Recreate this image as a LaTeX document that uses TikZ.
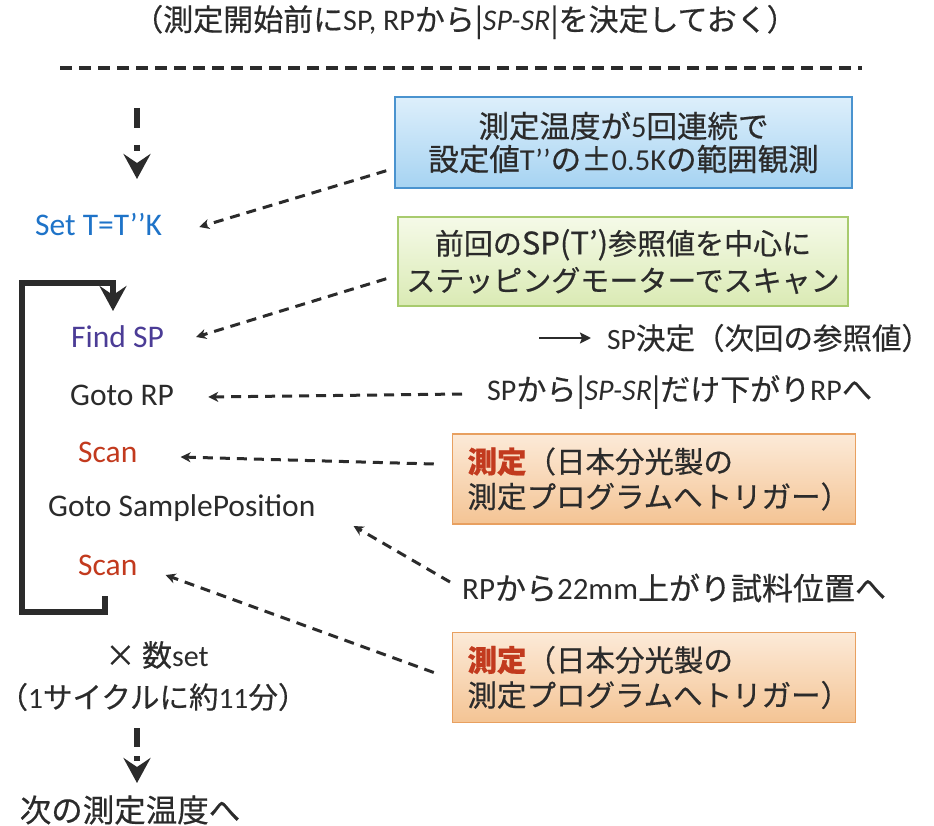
\documentclass[tikz,border=0pt]{standalone}
\usepackage{fontspec}
\setmainfont{Carlito}
\newfontfamily\jp[FakeBold=0.5]{Noto Sans CJK JP}
\newfontfamily\latf{Carlito}
\newcommand\lat[1]{{\latf #1}}
\usetikzlibrary{arrows.meta}
\definecolor{ink}{HTML}{2B2B2B}
\definecolor{tblue}{HTML}{1E73C8}
\definecolor{tpurple}{HTML}{4B3C96}
\definecolor{tred}{HTML}{C23A1E}
\definecolor{bluetop}{HTML}{DDEFFB}
\definecolor{bluebot}{HTML}{A6D3F2}
\definecolor{blueedge}{HTML}{4A93CF}
\definecolor{greentop}{HTML}{F5FAE8}
\definecolor{greenbot}{HTML}{DAEAB4}
\definecolor{greenedge}{HTML}{A8CB6E}
\definecolor{orangetop}{HTML}{FCEAD8}
\definecolor{orangebot}{HTML}{F4C494}
\definecolor{orangeedge}{HTML}{E8A060}
\tikzset{
  lbl/.style={inner sep=0pt, anchor=west, font=\fontsize{31.5}{36}\selectfont},
  jlbl/.style={inner sep=0pt, anchor=west, font=\jp\fontsize{30}{34}\selectfont, text=ink},
  jtxt/.style={inner sep=0pt, font=\jp\fontsize{30}{34}\selectfont, text=ink},
  bluebox/.style={draw=blueedge, line width=1.5pt, top color=bluetop, bottom color=bluebot,
    minimum width=457pt, minimum height=91pt, align=center, inner sep=0pt,
    font=\jp\fontsize{30.5}{33}\selectfont, text=ink},
  greenbox/.style={draw=greenedge, line width=1.5pt, top color=greentop, bottom color=greenbot,
    minimum width=450pt, minimum height=89pt, align=center, inner sep=0pt,
    font=\jp\fontsize{29}{37}\selectfont, text=ink},
  orangebox/.style={draw=orangeedge, line width=1.5pt, top color=orangetop, bottom color=orangebot,
    text width=373pt, minimum height=90pt, align=left, inner xsep=15pt, inner ysep=0pt,
    font=\jp\fontsize{29.5}{35}\selectfont, text=ink},
  darr/.style={draw=ink, line width=3pt, dash pattern=on 10pt off 7pt,
    -{Stealth[length=10pt,width=10pt,inset=3pt]}},
  bigarr/.style={draw=ink, line width=6.5pt,
    -{Stealth[length=25pt,width=27pt,inset=9pt]}},
}
\begin{document}
\begin{tikzpicture}[x=1pt,y=-1pt]
\useasboundingbox (0,0) rectangle (934,826);

% title
\node[jtxt, font=\jp\fontsize{30}{34}\selectfont] (title) at (465,22)
  {（測定開始前に\lat{SP, RP}から|\lat{\itshape SP-SR}|を決定しておく）};
\coordinate (hl) at (60,68);
\coordinate (hr) at (862,68);
\draw[ink, line width=4pt, dash pattern=on 12pt off 7pt] (hl) -- (hr);

% top arrow
\coordinate (ta) at (137,108);
\coordinate (tb) at (137,179);
\draw[bigarr, dash pattern=on 20pt off 17pt on 6pt off 80pt] (ta) -- (tb);

% left column labels
\node[lbl, text=tblue] (setT) at (35,225) {Set T=T’’K};
\node[lbl, text=tpurple] (findSP) at (71,337) {Find SP};
\node[lbl, text=ink] (gotoRP) at (70,395) {Goto RP};
\node[lbl, text=tred] (scan1) at (78,452) {Scan};
\node[lbl, text=ink] (gotoSP) at (48,508) {Goto SamplePosition};
\node[lbl, text=tred] (scan2) at (78,565) {Scan};

% loop bracket
\coordinate (l0) at (105,596);
\coordinate (l1) at (105,612);
\coordinate (l2) at (22,612);
\coordinate (l3) at (22,283);
\coordinate (l4) at (113,283);
\coordinate (l5) at (113,311);
\draw[bigarr, line width=6pt, line join=miter] (l0) -- (l1) -- (l2) -- (l3) -- (l4) -- (l5);

% bottom texts
\node[jtxt] (times) at (157,655) {× 数\lat{set}};
\node[jtxt, font=\jp\fontsize{29.5}{34}\selectfont] (cycle) at (153,697) {（\lat{1}サイクルに約\lat{11}分）};
\coordinate (ba) at (137,728);
\coordinate (bb) at (137,783);
\draw[bigarr, dash pattern=on 19pt off 9pt on 5pt off 80pt] (ba) -- (bb);
\node[jtxt, font=\jp\fontsize{31.5}{34}\selectfont] (next) at (130,810) {次の測定温度へ};

% right boxes
\node[bluebox] (blue) at (623.5,142.5) {測定温度が\lat{5}回連続で\\設定値\lat{T’’}の±\lat{0.5K}の範囲観測};
\node[greenbox] (green) at (623,261.5) {前回の{\fontsize{31}{37}\selectfont SP(T’)}参照値を中心に\\ステッピングモーターでスキャン};
\node[jlbl, font=\jp\fontsize{29.5}{34}\selectfont] (spdet) at (607,338) {\lat{SP}決定（次回の参照値）};
\draw[ink, line width=2.4pt, -{Stealth[length=11pt,width=11pt,inset=2pt]}] ([xshift=-68pt]spdet.west) -- ([xshift=-16pt]spdet.west);
\node[jlbl] (rpdown) at (487,392) {\lat{SP}から|\lat{\itshape SP-SR}|だけ下がり\lat{RP}へ};
\node[orangebox] (or1) at (654,479) {{\color{tred}\bfseries 測定}（日本分光製の\\測定プログラムへトリガー）};
\node[jlbl, font=\jp\fontsize{31}{34}\selectfont] (rp22) at (462,588) {\lat{RP}から\lat{22mm}上がり試料位置へ};
\node[orangebox] (or2) at (654,677.5) {{\color{tred}\bfseries 測定}（日本分光製の\\測定プログラムへトリガー）};

% dashed connectors
\draw[darr] ([shift={(-8,-18)}]blue.south west) -- ([shift={(37,2)}]setT.east);
\draw[darr] ([shift={(-11,-28)}]green.south west) -- ([shift={(32,0)}]findSP.east);
\draw[darr] ([shift={(-25,2)}]rpdown.west) -- ([shift={(34,2)}]gotoRP.east);
\draw[darr] ([shift={(-18,-15)}]or1.west) -- ([shift={(43,5)}]scan1.east);
\draw[darr] ([shift={(-12,-6)}]rp22.west) -- ([shift={(38,18)}]gotoSP.east);
\draw[darr] ([shift={(-18,-5)}]or2.west) -- ([shift={(28,10)}]scan2.east);
\end{tikzpicture}
\end{document}
